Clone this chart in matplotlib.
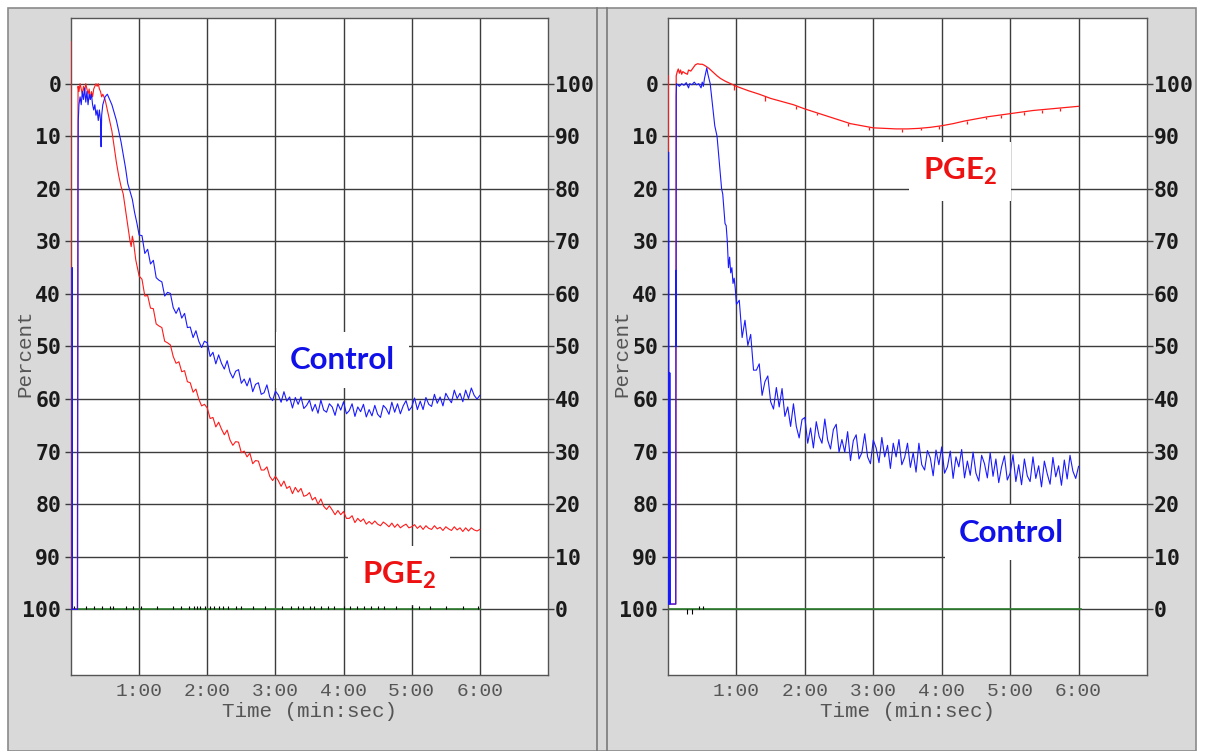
import numpy as np
import matplotlib
matplotlib.use('Agg')
import matplotlib.pyplot as plt
from matplotlib.patches import Rectangle
from matplotlib.lines import Line2D

W, H = 1208, 751

# ---------------- left panel (time in s, percent) ----------------
left_red_t = [0, 0.3, 5.5, 6.2, 7, 8, 9, 10, 11, 12, 13, 14, 15, 16, 17, 18, 19, 20, 21, 22,
              23, 24, 25, 26, 27, 28, 30, 32, 34, 36, 38, 40, 42, 44, 46, 48, 50, 52, 53, 54, 55, 57]
left_red_v = [-8, 100, 100, 0.5, 1.5, 0, 1, 2, 0.5, 1.5, 0, 1, 2, 1, 3, 1.5, 2.5, 1, 0.5, 0,
              0.5, 0, 1, 1.5, 2.5, 2, 3, 5, 7, 9, 12, 15, 17.5, 19.5, 21, 24, 27, 30, 31, 29, 30, 33.5]
# every 2.5 s from 1:00 to 6:00
left_red_tail = [36.6, 37.2, 40.4, 40.3, 42.7, 42.8, 45.7, 46.1, 46.4, 49.0,
                 49.3, 49.7, 51.9, 53.2, 52.9, 54.8, 54.6, 56.7, 56.9, 58.7,
                 58.1, 60.0, 61.3, 61.0, 61.7, 63.7, 63.5, 65.3, 64.4, 65.7,
                 66.8, 65.9, 67.8, 68.8, 68.1, 68.2, 70.2, 69.9, 71.0, 70.3,
                 72.3, 71.7, 71.8, 73.5, 73.5, 72.9, 74.7, 75.5, 74.7, 75.5,
                 76.6, 75.6, 77.0, 76.6, 78.0, 76.8, 77.7, 77.0, 78.5, 78.3,
                 77.8, 79.2, 78.7, 80.0, 79.0, 80.4, 81.0, 80.3, 81.1, 82.0,
                 81.2, 82.0, 81.4, 82.7, 82.7, 82.2, 83.5, 82.7, 83.3, 82.8,
                 83.8, 83.3, 83.8, 83.2, 83.8, 84.1, 83.4, 83.8, 84.3, 83.6,
                 84.4, 83.8, 84.5, 84.1, 83.8, 84.5, 84.3, 83.9, 84.6, 84.1,
                 84.8, 84.1, 84.6, 84.8, 84.1, 84.7, 84.4, 85.0, 84.3, 84.7,
                 85.0, 84.3, 84.9, 84.5, 85.2, 84.5, 85.1, 84.5, 84.9, 85.1,
                 84.8]

left_blue_t = [0, 1.0, 1.1, 1.3, 5.8, 6.2, 6.4, 7, 8, 9, 10, 11, 12, 13, 14, 15, 16, 17, 18, 19,
               20, 21, 22, 23, 24, 25, 26, 26.5, 27, 28, 30, 32, 34, 36, 38, 40, 42, 44, 46, 48,
               50, 52, 54, 56, 58]
left_blue_v = [100, 100, 35, 100, 100, 18, 7, 4, 2.5, 4, 1.5, 3, 0.8, 3.5, 1.5, 4, 2, 3, 2, 4,
               5, 4, 6, 5, 7, 5, 7, 12, 6, 4, 2.5, 2, 3, 4, 5.5, 7, 9, 11, 13.5, 16,
               19, 20.5, 22, 24.5, 26.5]
left_blue_tail = [28.8, 28.9, 32.3, 31.5, 34.3, 33.6, 36.9, 37.4, 37.7, 40.4,
                  39.7, 39.9, 42.6, 43.7, 42.6, 44.6, 43.7, 46.4, 46.3, 48.3,
                  47.0, 49.0, 50.2, 49.0, 49.3, 51.9, 51.1, 53.3, 51.6, 53.2,
                  54.3, 52.7, 54.9, 56.0, 54.7, 54.4, 57.0, 56.2, 57.5, 56.0,
                  58.6, 57.2, 56.9, 59.1, 58.8, 57.3, 59.6, 60.3, 58.5, 59.2,
                  60.6, 58.6, 60.4, 59.6, 61.7, 59.7, 61.0, 59.6, 61.8, 61.2,
                  60.2, 62.3, 61.0, 62.7, 60.2, 62.1, 62.5, 60.9, 61.5, 63.1,
                  60.9, 62.1, 60.5, 62.8, 62.2, 60.9, 63.3, 61.5, 62.4, 61.0,
                  63.4, 62.0, 63.2, 61.2, 62.9, 63.5, 61.2, 61.8, 62.9, 60.6,
                  62.5, 60.9, 62.8, 61.3, 60.3, 62.2, 61.5, 59.8, 62.0, 60.4,
                  62.0, 59.7, 61.0, 61.4, 59.1, 60.8, 59.6, 61.3, 58.9, 59.9,
                  60.7, 58.3, 59.9, 58.9, 60.5, 58.3, 59.9, 57.9, 59.3, 60.0,
                  59.3]

left_base_t = [0, 360]
left_base_v = [100, 100]
left_mark_t = [3, 13, 20, 27, 34, 37, 48, 55, 62, 76, 90, 97, 104, 108, 111, 114, 118, 122,
               126, 130, 134, 138, 145, 150, 160, 171, 186, 194, 200, 204, 210, 214, 220, 226,
               232, 240, 246, 252, 258, 264, 270, 276, 286, 300, 306, 316, 330, 345, 358]
left_mark_top = 99.3

# ---------------- right panel ----------------
right_red_t = [0.3, 0.5, 6.8, 7.2, 8, 9, 10, 11, 12, 13, 15, 17, 18, 20, 22, 24, 26, 28, 30, 32,
               34, 36, 38, 40, 43, 46, 50, 55, 60, 70, 80, 90, 100, 110, 120, 130, 140, 150, 160,
               170, 180, 190, 200, 210, 220, 230, 240, 250, 260, 270, 280, 290, 300, 310, 320,
               330, 340, 350, 360]
right_red_v = [-1.5, 99, 99, -1.5, -2.2, -2.8, -2.0, -2.6, -1.8, -2.3, -2.0, -1.8, -2.6, -2.4,
               -3.0, -3.6, -3.8, -3.7, -3.7, -3.5, -3.2, -2.9, -2.5, -2.1, -1.5, -1.0, -0.5, 0,
               0.5, 1.3, 2.0, 2.8, 3.4, 4.0, 4.8, 5.5, 6.2, 6.9, 7.6, 8.0, 8.4, 8.5, 8.6, 8.6,
               8.5, 8.3, 8.0, 7.6, 7.1, 6.7, 6.3, 6.0, 5.7, 5.4, 5.1, 4.9, 4.7, 4.5, 4.3]
# little downward blips on the slow red trace
right_red_blip_t = [58, 85, 112, 131, 158, 176, 205, 222, 238, 262, 279, 292, 312, 328, 344]
right_red_blip_v = [1.2, 3.2, 4.9, 6.0, 8.0, 8.9, 9.1, 8.9, 8.6, 7.6, 6.8, 6.5, 5.9, 5.5, 5.2]

right_blue_t = [0, 0.5, 0.5, 0.6, 0.7, 1.6, 1.6, 1.7, 1.8, 6.8, 7.0, 7.1, 7.2, 7.5, 10, 12, 14,
                16, 18, 19, 21, 23, 25, 27, 29, 30, 31, 32, 33, 34, 35, 37, 39, 41, 43, 45, 47,
                48, 50, 51, 52, 53, 54, 55, 56, 57, 58, 59]
right_blue_v = [99, 99, 13, 23.5, 99, 99, 55, 70, 99, 99, 35.5, 50, 2.3, 0, 0.5, 0, 0.3, -0.2,
                0.8, 0, 0.2, -0.3, 0.2, 0, 0.8, -0.3, 0.5, -1.0, -2.0, -3.0, -1.8, 0, 4, 8, 10,
                15, 20, 21, 26.6, 27, 30, 35, 33, 36, 35, 38, 37, 39]
right_blue_tail = [42.0, 41.2, 48.3, 45.0, 49.8, 47.7, 54.5, 54.5, 53.3, 59.3,
                   56.7, 55.6, 60.5, 61.9, 57.8, 61.5, 58.0, 63.3, 61.5, 65.2,
                   60.9, 65.2, 67.4, 63.9, 63.5, 68.4, 65.5, 69.3, 64.3, 67.1,
                   68.4, 63.8, 67.8, 69.5, 65.8, 64.8, 70.1, 67.7, 70.1, 66.2,
                   71.7, 67.9, 66.8, 71.4, 70.2, 66.6, 71.0, 72.3, 67.8, 69.3,
                   72.1, 67.3, 71.0, 68.8, 73.2, 68.4, 71.0, 67.7, 72.5, 71.1,
                   68.4, 73.0, 70.2, 73.9, 68.4, 72.5, 73.5, 69.8, 71.2, 74.6,
                   69.7, 72.5, 69.1, 74.1, 72.9, 69.9, 75.1, 71.0, 72.9, 69.6,
                   75.0, 71.8, 74.5, 70.1, 74.1, 75.6, 70.7, 72.3, 75.0, 70.2,
                   74.7, 71.4, 75.9, 72.9, 70.8, 75.4, 74.1, 70.6, 75.7, 72.5,
                   76.3, 71.4, 74.6, 75.7, 71.0, 75.1, 72.7, 76.7, 71.8, 74.2,
                   76.2, 71.1, 74.8, 72.7, 76.4, 71.6, 75.2, 70.7, 73.7, 75.1,
                   72.8]

right_base_t = [0, 362]
right_base_v = [100, 100]
right_mark_t = [17, 21, 27, 31]
right_mark_v = [100.8, 100.8, 99.4, 99.4]

tick_secs = [60, 120, 180, 240, 300, 360]
tick_names = ["1:00", "2:00", "3:00", "4:00", "5:00", "6:00"]
pct_ticks = list(range(0, 101, 10))

# label texts: (x s, y %)
left_labels = [("Control", 239, 52.6, "#1010e8"), ("PGE$_\\mathregular{2}$", 289, 93.6, "#ee1111")]
right_labels = [("PGE$_\\mathregular{2}$", 256, 16.7, "#ee1111"), ("Control", 301, 85.4, "#1010e8")]

RED = "#ff1a1a"
BLUE = "#1a1aff"
GREEN = "#2e7d2e"
GRID = "#3c3c3c"
TAIL_START, TAIL_STEP = 60, 2.5


def fr(x0, y0, x1, y1):
    return [x0 / W, 1 - y1 / H, (x1 - x0) / W, (y1 - y0) / H]


def tail_times(vals):
    return [TAIL_START + TAIL_STEP * i for i in range(len(vals))]


def setup_axes(ax, px_left):
    ax.set_xlim(0, 420)
    ax.set_ylim(112.5, -12.5)
    ax.set_xticks(tick_secs)
    ax.set_xticklabels(tick_names, family="Liberation Mono", fontsize=14, color="#555555")
    ax.set_yticks(pct_ticks)
    ax.set_yticklabels([str(v) for v in pct_ticks], family="DejaVu Sans Mono",
                       fontweight="bold", fontsize=15.5, color="#1a1a1a")
    ax.tick_params(axis="x", length=0, pad=6)
    ax.tick_params(axis="y", length=4, width=1, color=GRID, pad=3, direction="out")
    ax.grid(True, color=GRID, lw=1.0)
    ax.set_axisbelow(True)
    for s in ax.spines.values():
        s.set_color("#555555")
        s.set_linewidth(1.0)
    ax.set_xlabel("Time (min:sec)", family="Liberation Mono", fontsize=15,
                  color="#555555", labelpad=1)

    ax2 = ax.twinx()
    ax2.set_ylim(-12.5, 112.5)
    ax2.set_yticks(pct_ticks)
    ax2.set_yticklabels([str(v) for v in pct_ticks], family="DejaVu Sans Mono",
                        fontweight="bold", fontsize=15.5, color="#1a1a1a")
    ax2.tick_params(axis="y", length=4, width=1, color=GRID, pad=1, direction="out")
    for s in ax2.spines.values():
        s.set_visible(False)

    fig.text((px_left - 46) / W, 1 - 353 / H, "Percent", rotation=90, ha="center",
             va="center", family="Liberation Mono", fontsize=15, color="#555555")


def add_label(ax, txt, x, y, col):
    ax.text(x, y, txt, ha="center", va="center", color=col, fontsize=22.5,
            family="Lato", fontweight="bold", zorder=1.5,
            bbox=dict(facecolor="white", edgecolor="none", pad=10))


fig = plt.figure(figsize=(W / 100, H / 100), dpi=100)
fig.patch.set_facecolor("white")
fig.patches.append(Rectangle((8 / W, 0), (1196 - 8) / W, (H - 8) / H, transform=fig.transFigure,
                             facecolor="#d9d9d9", edgecolor="#8a8a8a", lw=1.2, zorder=-10))
for px in (597, 607):
    fig.add_artist(Line2D([px / W, px / W], [0, 1 - 8 / H], transform=fig.transFigure,
                          color="#7a7a7a", lw=1.2, zorder=-5))

# left
axl = fig.add_axes(fr(71, 18, 548, 675))
setup_axes(axl, 71)
axl.plot(left_base_t, left_base_v, color=GREEN, lw=1.2, zorder=2)
axl.vlines(left_mark_t, left_mark_top, 100, color="black", lw=0.8, zorder=2)
axl.plot(left_red_t + tail_times(left_red_tail), left_red_v + left_red_tail,
         color=RED, lw=0.8, zorder=3)
axl.plot(left_blue_t + tail_times(left_blue_tail), left_blue_v + left_blue_tail,
         color=BLUE, lw=0.8, zorder=3)
for txt, x, y, col in left_labels:
    add_label(axl, txt, x, y, col)

# right
axr = fig.add_axes(fr(668, 18, 1147, 675))
setup_axes(axr, 668)
axr.plot(right_base_t, right_base_v, color=GREEN, lw=1.2, zorder=2)
axr.vlines(right_mark_t, right_mark_v, 100, color="black", lw=0.8, zorder=2)
axr.plot(right_red_t, right_red_v, color=RED, lw=0.9, zorder=3)
axr.vlines(right_red_blip_t, np.interp(right_red_blip_t, right_red_t[4:], right_red_v[4:]),
           right_red_blip_v, color=RED, lw=0.9, zorder=3)
axr.plot(right_blue_t + tail_times(right_blue_tail), right_blue_v + right_blue_tail,
         color=BLUE, lw=0.8, zorder=3)
for txt, x, y, col in right_labels:
    add_label(axr, txt, x, y, col)

fig.savefig("out.png", dpi=100)
